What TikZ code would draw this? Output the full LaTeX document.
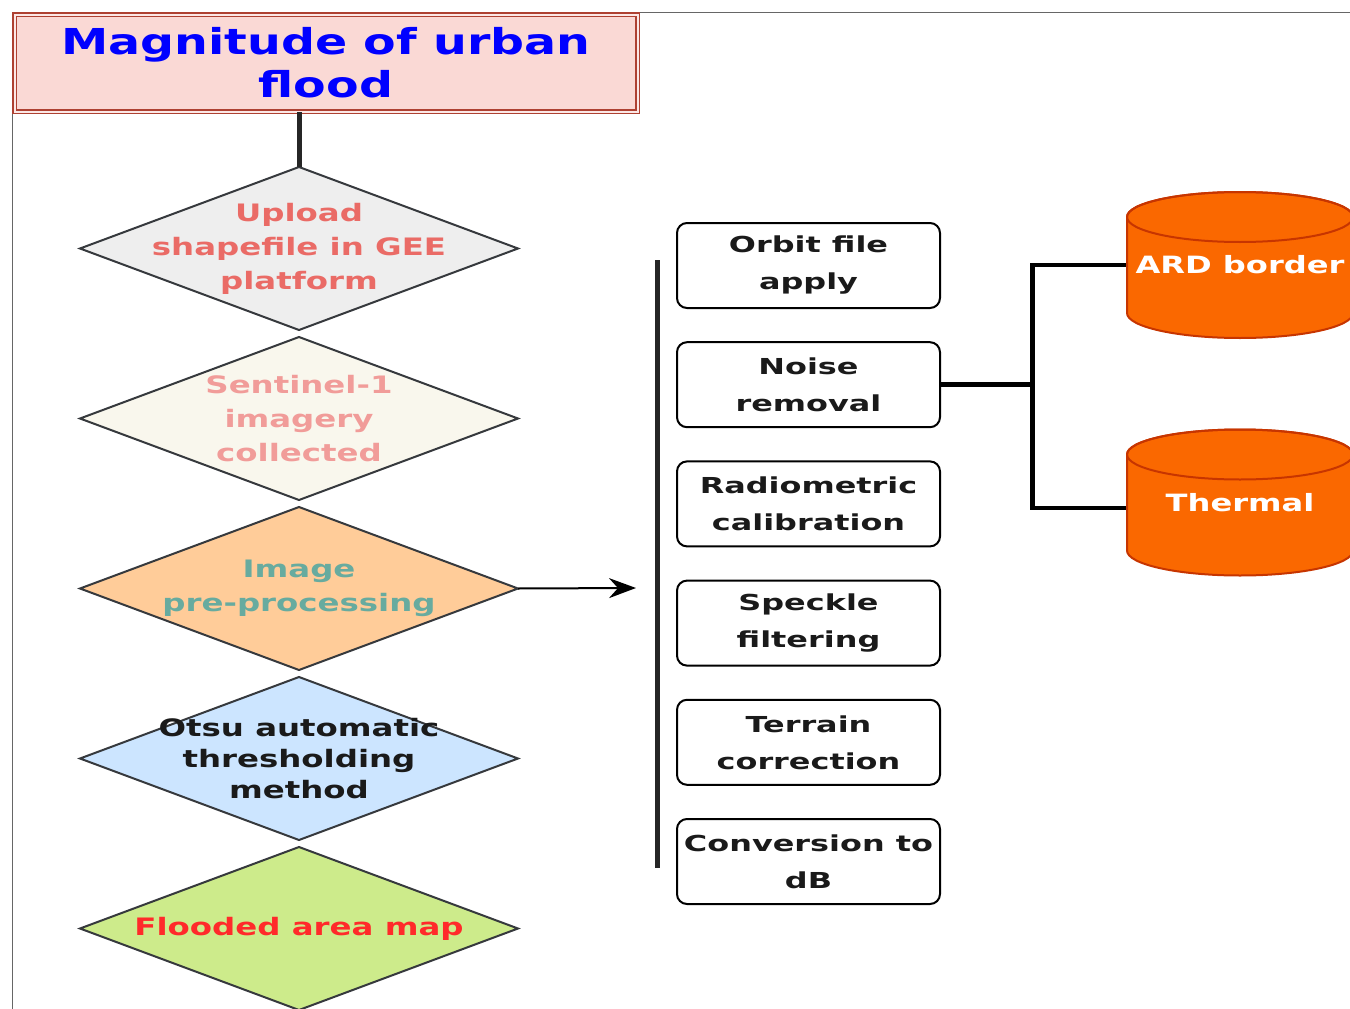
\documentclass[tikz,border=0pt]{standalone}
\usepackage{fontspec}
\setmainfont{DejaVu Sans}
\newfontfamily\titlefont{DejaVu Sans}[FakeStretch=1.33]
\newfontfamily\diafont{DejaVu Sans}[FakeStretch=1.35]
\newfontfamily\boxfont{DejaVu Sans}[FakeStretch=1.45]
\usetikzlibrary{arrows.meta,positioning,shapes.geometric}

\definecolor{headfill}{HTML}{FAD9D5}
\definecolor{headedge}{HTML}{AE4132}
\definecolor{diaedge}{HTML}{36393D}
\definecolor{upfill}{HTML}{EEEEEE}
\definecolor{uptext}{HTML}{EA6B66}
\definecolor{s1fill}{HTML}{F9F7ED}
\definecolor{s1text}{HTML}{F19C99}
\definecolor{prepfill}{HTML}{FFCC99}
\definecolor{preptext}{HTML}{67AB9F}
\definecolor{otsufill}{HTML}{CCE5FF}
\definecolor{floodfill}{HTML}{CDEB8B}
\definecolor{floodtext}{HTML}{FF2A2A}
\definecolor{boxtext}{HTML}{1A1A1A}
\definecolor{cylfill}{HTML}{FA6800}
\definecolor{cyledge}{HTML}{C73500}

\begin{document}
\begin{tikzpicture}[
  x=1pt,y=-1pt,
  node distance=34.2pt,
  headbox/.style={draw=headedge,double=headfill!60!white,double distance=2pt,line width=1.5pt,fill=headfill,
    minimum width=623pt,minimum height=97pt,inner sep=0pt,align=center,text=blue,
    font=\titlefont\bfseries\fontsize{35.7}{43}\selectfont},
  decision/.style={diamond,draw=diaedge,line width=2pt,minimum width=438pt,minimum height=163pt,inner sep=0pt,outer sep=0pt},
  diatext/.style={align=center,font=\diafont\bfseries\fontsize{24}{34}\selectfont},
  stepbox/.style={draw,rounded corners=10pt,line width=2pt,minimum width=263pt,minimum height=85pt,inner sep=0pt,outer sep=0pt,
    align=center,text=boxtext,font=\boxfont\bfseries\fontsize{22}{37}\selectfont},
  store/.style={minimum width=228pt,minimum height=148pt,inner sep=0pt,outer sep=0pt,text=white,
    font=\diafont\bfseries\fontsize{23.8}{30}\selectfont,
    path picture={
      \path[fill=cylfill,draw=cyledge,line width=2pt]
        ([xshift=1pt,yshift=-26pt]path picture bounding box.north west)
        -- ([xshift=1pt,yshift=26pt]path picture bounding box.south west)
        arc[start angle=180,end angle=360,x radius=113pt,y radius=25pt]
        -- ([xshift=-1pt,yshift=-26pt]path picture bounding box.north east)
        arc[start angle=0,end angle=180,x radius=113pt,y radius=25pt] -- cycle;
      \draw[cyledge,line width=2pt] ([yshift=-26pt]path picture bounding box.north)
        ellipse[x radius=113pt,y radius=25pt];
    }},
  frame/.style={line width=1pt,black!60},
  bar/.style={line width=5pt,black!85},
  link/.style={line width=4.5pt},
  arrow/.style={line width=2pt,-{Stealth[length=27pt,width=20pt,inset=9pt]}}
]
  \path[use as bounding box] (0,0) rectangle (1350,1009);
  \clip (0,0) rectangle (1350,1009);

  \draw[frame] (12,12) -- (1350,12);
  \draw[frame] (12,12) -- (12,1009);

  % left column
  \node[headbox] (title) at (326,63) {Magnitude of urban\\flood};
  \node[decision,fill=upfill,label={[diatext,text=uptext]center:{Upload\\shapefile in GEE\\platform}}] (upload) at (299,248.5) {};
  \node[decision,fill=s1fill,below=7pt of upload,label={[diatext,text=s1text]center:{Sentinel-1\\imagery\\collected}}] (sentinel) {};
  \node[decision,fill=prepfill,below=7pt of sentinel,label={[diatext,text=preptext]center:{Image\\pre-processing}}] (prep) {};
  \node[decision,fill=otsufill,below=7pt of prep,label={[diatext,text=boxtext,font=\diafont\bfseries\fontsize{24}{31}\selectfont]center:{Otsu automatic\\thresholding\\method}}] (otsu) {};
  \node[decision,fill=floodfill,below=7pt of otsu,label={[diatext,text=floodtext]center:{Flooded area map}}] (flood) {};

  \draw[bar] (upload.north |- title.south) -- (upload.north);

  % pre-processing steps
  \node[stepbox] (orbit) at (808.5,265.5) {Orbit file\\apply};
  \node[stepbox,below=of orbit] (noise) {Noise\\removal};
  \node[stepbox,below=of noise] (radio) {Radiometric\\calibration};
  \node[stepbox,below=of radio] (speckle) {Speckle\\filtering};
  \node[stepbox,below=of speckle] (terrain) {Terrain\\correction};
  \node[stepbox,below=of terrain] (todb) {Conversion to\\dB};

  \coordinate (bartop) at (657,260);
  \coordinate (barbot) at (657,868);
  \draw[bar] (bartop) -- (barbot);

  \coordinate (arrowend) at (636,588);
  \draw[arrow] (prep.east) -- (arrowend);

  % noise removal outputs
  \node[store] (ard) at (1240,265) {ARD border};
  \node[store] (thermal) at (1240,502.5) {Thermal};

  \draw[link] (noise.east) -- ++(92.5,0) coordinate (bus) |- (ard.west);
  \draw[link] (bus) |- ([yshift=-5.5pt]thermal.west);
\end{tikzpicture}
\end{document}
